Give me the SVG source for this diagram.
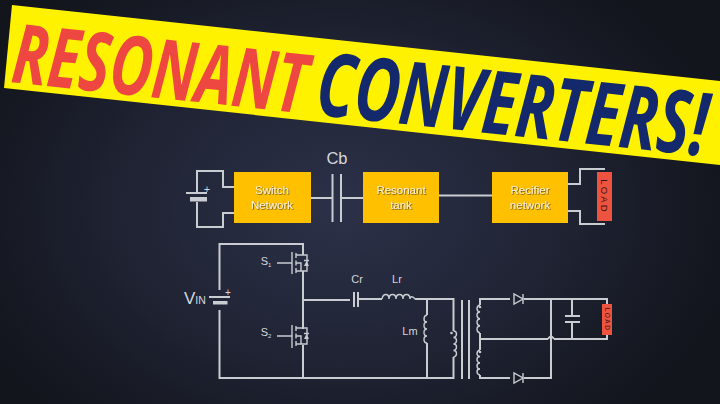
<svg xmlns="http://www.w3.org/2000/svg" width="720" height="404" viewBox="0 0 720 404">
<defs>
<radialGradient id="bg" gradientUnits="userSpaceOnUse" cx="340" cy="205" r="400" gradientTransform="translate(0 60) scale(1 .72)">
<stop offset="0" stop-color="#2c3149"/><stop offset=".55" stop-color="#1f2333"/><stop offset="1" stop-color="#12151c"/>
</radialGradient>
<filter id="sh" x="-20%" y="-20%" width="140%" height="140%"><feDropShadow dx=".7" dy=".7" stdDeviation=".5" flood-color="#5a4300"/></filter>
</defs>
<style>
.w{fill:none;stroke:#c9ccd1;stroke-width:2;stroke-linejoin:miter}
.t{fill:none;stroke:#c9ccd1;stroke-width:1.4}
.box{fill:#ffc000}
.lbl{font-family:"Liberation Sans",Arial,sans-serif;font-size:11.5px;fill:#fbf0d2;text-anchor:middle;filter:url(#sh)}
.sch{font-family:"Liberation Sans",Arial,sans-serif;fill:#d4d7dc;text-anchor:middle}
.load{fill:#ee5340}
.loadt{font-family:"Liberation Sans",Arial,sans-serif;fill:#3a1512;text-anchor:middle}
.ttl{font-family:"Open Sans",sans-serif;font-weight:700;font-style:italic}
</style>
<rect width="720" height="404" fill="url(#bg)"/>
<g id="banner">
<polygon points="12,5 720,81 720,165 4,88" fill="#fff200"/>
<g transform="translate(10,82) rotate(6.1)">
<text class="ttl" transform="scale(.94 1.33)" x="0" y="0" font-size="62" fill="#ee4640">RESONANT</text>
<text class="ttl" transform="scale(1 1.42)" x="306" y="0" font-size="62" fill="#14296b">CONVERTERS!</text>
</g>
</g>
<g id="connectors">
<path class="w" d="M197 192V171H223V187H234M197 202V227H223V213H234"/>
<path class="w" d="M311 198H332M341 198H363M439 195.500H492"/>
<path class="w" d="M568 184H580V169H605M568 211H580V224H605"/>
<path class="w" d="M219.500 290V244H303V255M219.500 310V378H453.500V357M453.500 331V299H415M303 271V329M303 345V378M303 300H350M358 299H382M427 299V315M427 343V378"/>
<path class="w" d="M480 305V299H510M524 299H607V304M480 333V339H548M554 339H607V335M480 350V339M480 375V378H510M524 378H551V299M572 299V316M572 322V339"/>
<path class="w" d="M548 339q3-5 6 0"/>
</g>
<g id="battery-top">
<path class="w" d="M186 193H207"/><rect x="190" y="197" width="17" height="4.500" fill="#c9ccd1"/>
<text class="sch" x="207" y="193" font-size="11">+</text>
</g>
<g id="switch-network"><rect class="box" x="234" y="172" width="77" height="51"/><text class="lbl" x="272" y="194">Switch</text><text class="lbl" x="272" y="209">Network</text></g>
<g id="cb"><path class="w" d="M332.500 174V222M341 174V222"/><text class="sch" x="337" y="164" font-size="16.500">Cb</text></g>
<g id="resonant-tank"><rect class="box" x="363" y="172" width="76" height="51"/><text class="lbl" x="401" y="194">Resonant</text><text class="lbl" x="401" y="209">tank</text></g>
<g id="rectifier-network"><rect class="box" x="492" y="172" width="76" height="51"/><text class="lbl" x="530" y="194">Recifier</text><text class="lbl" x="530" y="209">network</text></g>
<g id="load-top"><rect class="load" x="597" y="172" width="15" height="49"/><text class="loadt" transform="translate(601 196.500) rotate(90)" font-size="9.500" letter-spacing="2.200">LOAD</text></g>
<g id="vin">
<text class="sch" x="184" y="304" font-size="17" style="text-anchor:start">V<tspan font-size="10.500">IN</tspan></text>
<path class="w" d="M209 297H230"/><rect x="213" y="301" width="14.500" height="3.500" fill="#c9ccd1"/>
<text class="sch" x="228" y="296" font-size="10">+</text>
</g>
<g id="s1">
<text class="sch" x="266" y="265" font-size="11">S<tspan font-size="6" dy="2">1</tspan></text>
<path class="t" d="M277 263H292M292 252V274M296 253V258M296 260.500V265.500M296 268V273M296 255H303M296 271H303M296 263H301V271M303 255H307V271H303"/>
<path d="M304 266H309L306.500 261Z" fill="#c9ccd1"/><path class="t" d="M304 260.500H309"/>
</g>
<g id="s2">
<text class="sch" x="266" y="336" font-size="11">S<tspan font-size="6" dy="2">2</tspan></text>
<path class="t" d="M277 336H292M292 325V348M296 326V331M296 333.500V338.500M296 341V346M296 328H303M296 344H303M296 336H301V344M303 328H307V344H303"/>
<path d="M304 339H309L306.500 334Z" fill="#c9ccd1"/><path class="t" d="M304 333.500H309"/>
</g>
<g id="cr"><path class="w" d="M354 292V307M358 292V307"/><text class="sch" x="357" y="283" font-size="11">Cr</text></g>
<g id="lr"><path class="t" d="M382 299c1-6 7-6 7 0c0-6 7-6 7 0c0-6 7-6 7 0c0-6 7-6 7 0c0-3 3-3 5 0"/><text class="sch" x="397" y="283" font-size="11">Lr</text></g>
<g id="lm"><path class="t" d="M427 315c-4 1-4 7 0 7c-4 0-4 7 0 7c-4 0-4 7 0 7c-4 0-4 7 0 7"/><text class="sch" x="410" y="335" font-size="11">Lm</text></g>
<g id="transformer">
<path class="t" d="M453.500 331c4 0 4 6 0 6.500c4 0 4 6 0 6.500c4 0 4 6 0 6.500c4 0 4 6 0 6.500"/><circle cx="451.500" cy="333" r="1.300" fill="#c9ccd1"/>
<path class="w" d="M462 300V379M469 300V379"/>
<path class="t" d="M480 305c-4 1-4 6.500 0 7c-4 0-4 6.500 0 7c-4 0-4 6.500 0 7c-4 0-4 6.500 0 7"/><circle cx="480" cy="307" r="1.300" fill="#c9ccd1"/>
<path class="t" d="M480 350c-4 1-4 6 0 6.500c-4 0-4 6 0 6.500c-4 0-4 6 0 6c-4 0-4 5 0 6"/><circle cx="480" cy="352" r="1.300" fill="#c9ccd1"/>
</g>
<g id="d1"><path class="t" d="M514 294V304L523 299ZM523 294V304"/></g>
<g id="d2"><path class="t" d="M514 373V383L523 378ZM523 373V383"/></g>
<g id="c-out"><path class="w" d="M565 316H580M565 322H580"/></g>
<g id="load-bottom"><rect class="load" x="602" y="304" width="10" height="31"/><text class="loadt" transform="translate(604.500 319.500) rotate(90)" font-size="6.500" letter-spacing="1.500">LOAD</text></g>
</svg>
